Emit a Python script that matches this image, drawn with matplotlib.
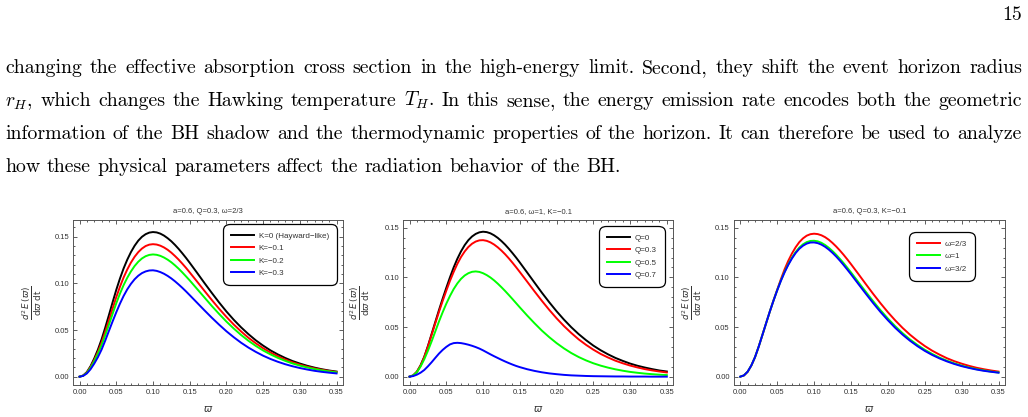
import numpy as np
import matplotlib.pyplot as plt
from matplotlib.ticker import MultipleLocator, FormatStrFormatter

# sample points (varpi): finer steps over the peak, coarser on the tail
omega = np.concatenate([np.linspace(0, 0.15, 31), np.linspace(0.16, 0.35, 20)])

# panel 1: a=0.6, Q=0.3, w=2/3, varying K
p1_K0 = [0, .0013, .0050, .0113, .0195, .0290, .0400, .0526, .0660, .0797, .0930, .1051, .1160,
         .1254, .1335, .1403, .1458, .1499, .1527, .1544, .1550, .1546, .1533, .1512, .1484,
         .1451, .1412, .1369, .1322, .1273, .1221,
         .1114, .1005, .0899, .0796, .0699, .0610, .0529, .0456, .0390, .0333, .0282, .0239,
         .0201, .0168, .0141, .0117, .0097, .0080, .0066, .0055]
p1_K1 = [0, .0012, .0046, .0103, .0178, .0265, .0366, .0481, .0604, .0730, .0852, .0963, .1063,
         .1149, .1223, .1285, .1335, .1373, .1400, .1415, .1420, .1416, .1404, .1385, .1360,
         .1329, .1293, .1254, .1211, .1166, .1118,
         .1020, .0921, .0823, .0729, .0641, .0559, .0485, .0417, .0358, .0305, .0259, .0219,
         .0184, .0154, .0129, .0107, .0089, .0074, .0061, .0050]
p1_K2 = [0, .0011, .0042, .0095, .0165, .0246, .0338, .0444, .0557, .0673, .0786, .0889, .0981,
         .1060, .1128, .1186, .1232, .1267, .1291, .1305, .1310, .1306, .1295, .1277, .1254,
         .1226, .1193, .1157, .1117, .1075, .1032,
         .0941, .0850, .0759, .0673, .0591, .0516, .0447, .0385, .0330, .0281, .0239, .0202,
         .0170, .0142, .0119, .0099, .0082, .0068, .0056, .0046]
p1_K3 = [0, .0009, .0035, .0080, .0140, .0209, .0290, .0387, .0490, .0592, .0690, .0782, .0865,
         .0936, .0995, .1044, .1082, .1110, .1128, .1138, .1140, .1134, .1121, .1103, .1080,
         .1053, .1022, .0988, .0952, .0914, .0874,
         .0793, .0712, .0633, .0558, .0487, .0423, .0364, .0312, .0266, .0225, .0190, .0160,
         .0134, .0112, .0093, .0077, .0063, .0052, .0043, .0035]

# panel 2: a=0.6, w=1, K=-0.1, varying Q
p2_Q0 = [0, .0013, .0050, .0114, .0200, .0309, .0430, .0550, .0670, .0785, .0895, .1001, .1100,
         .1187, .1262, .1325, .1375, .1412, .1438, .1454, .1460, .1456, .1444, .1424, .1398,
         .1366, .1330, .1289, .1245, .1199, .1150,
         .1049, .0947, .0846, .0750, .0659, .0575, .0498, .0429, .0368, .0313, .0266, .0225,
         .0189, .0159, .0132, .0110, .0092, .0076, .0062, .0052]
p2_Q3 = [0, .0012, .0049, .0112, .0196, .0303, .0420, .0537, .0652, .0762, .0866, .0965, .1055,
         .1136, .1205, .1261, .1306, .1339, .1361, .1373, .1375, .1368, .1353, .1331, .1303,
         .1270, .1233, .1192, .1148, .1102, .1054,
         .0957, .0859, .0764, .0673, .0588, .0510, .0440, .0376, .0321, .0272, .0229, .0193,
         .0161, .0135, .0112, .0093, .0076, .0063, .0052, .0042]
p2_Q5 = [0, .0012, .0045, .0102, .0175, .0261, .0355, .0455, .0555, .0648, .0735, .0813, .0882,
         .0939, .0985, .1019, .1042, .1056, .1060, .1055, .1042, .1023, .0999, .0970, .0937,
         .0901, .0863, .0823, .0782, .0740, .0698,
         .0616, .0538, .0464, .0398, .0338, .0285, .0238, .0198, .0164, .0135, .0111, .0091,
         .0074, .0060, .0048, .0039, .0031, .0025, .0020, .0016]
p2_Q7 = [0, .0006, .0020, .0040, .0067, .0104, .0145, .0189, .0232, .0269, .0300, .0325, .0338,
         .0341, .0338, .0331, .0322, .0311, .0298, .0283, .0265, .0245, .0225, .0206, .0188,
         .0170, .0153, .0137, .0122, .0108, .0096,
         .0075, .0058, .0044, .0033, .0025, .0018, .0013, .0010, .0007, .0005, .0004, .0003,
         .0002, .0002, .0001, .0001, .0001, .0000, .0000, .0000]

# panel 3: a=0.6, Q=0.3, K=-0.1, varying w
p3_w23 = [0, .0012, .0049, .0112, .0196, .0303, .0420, .0538, .0655, .0767, .0875, .0981, .1080,
          .1166, .1240, .1303, .1355, .1393, .1420, .1435, .1440, .1436, .1424, .1405, .1379,
          .1347, .1311, .1271, .1228, .1182, .1134,
          .1035, .0934, .0835, .0740, .0650, .0567, .0491, .0423, .0363, .0309, .0262, .0222,
          .0186, .0156, .0131, .0109, .0090, .0075, .0062, .0051]
p3_w1 = [0, .0013, .0050, .0113, .0197, .0303, .0420, .0538, .0655, .0766, .0870, .0967, .1055,
         .1132, .1198, .1255, .1300, .1333, .1355, .1367, .1369, .1363, .1348, .1326, .1298,
         .1265, .1228, .1187, .1144, .1098, .1051,
         .0953, .0856, .0761, .0670, .0586, .0508, .0438, .0375, .0320, .0271, .0229, .0192,
         .0161, .0134, .0111, .0092, .0076, .0063, .0051, .0042]
p3_w32 = [0, .0013, .0050, .0113, .0197, .0303, .0420, .0538, .0655, .0765, .0868, .0964, .1050,
          .1125, .1190, .1245, .1288, .1319, .1340, .1351, .1352, .1345, .1330, .1308, .1280,
          .1247, .1210, .1169, .1125, .1079, .1032,
          .0934, .0837, .0742, .0652, .0569, .0492, .0423, .0362, .0308, .0260, .0219, .0184,
          .0154, .0128, .0106, .0088, .0072, .0059, .0049, .0040]

panels = [
    ('a=0.6, Q=0.3, ω=2/3',
     [p1_K0, p1_K1, p1_K2, p1_K3],
     ['K=0 (Hayward\u2212like)', 'K=\u22120.1', 'K=\u22120.2', 'K=\u22120.3'],
     ['black', 'red', '#00ff00', 'blue']),
    ('a=0.6, ω=1, K=\u22120.1',
     [p2_Q0, p2_Q3, p2_Q5, p2_Q7],
     ['Q=0', 'Q=0.3', 'Q=0.5', 'Q=0.7'],
     ['black', 'red', '#00ff00', 'blue']),
    ('a=0.6, Q=0.3, K=\u22120.1',
     [p3_w23, p3_w1, p3_w32],
     ['ω=2/3', 'ω=1', 'ω=3/2'],
     ['red', '#00ff00', 'blue']),
]

W, H = 1028, 417
fig = plt.figure(figsize=(W / 100, H / 100), dpi=100)
renderer = fig.canvas.get_renderer()

# ---- page text ----
body = dict(family='cmr10', math_fontfamily='cm', va='baseline')
lines = [
    "changing the effective absorption cross section in the high-energy limit. Second, they shift the event horizon radius",
    "$r_H$, which changes the Hawking temperature $T_H$. In this sense, the energy emission rate encodes both the geometric",
    "information of the BH shadow and the thermodynamic properties of the horizon. It can therefore be used to analyze",
    "how these physical parameters affect the radiation behavior of the BH.",
]
baselines = [73, 106, 139, 172]
x0, x1 = 5, 1022

# font size chosen so the last (unjustified) line ends near x=622
words = lines[3].split(' ')
probe = [fig.text(0, 0, w, fontsize=10, **body) for w in words]
s10 = sum(t.get_window_extent(renderer).width for t in probe)
for t in probe:
    t.remove()
fs = 617 / (s10 / 10 + (len(words) - 1) * 0.333 * 100 / 72)

for text, yb, just in zip(lines, baselines, [True, True, True, False]):
    words = text.split(' ')
    items = [fig.text(0, 1 - yb / H, w, fontsize=fs, **body) for w in words]
    widths = [t.get_window_extent(renderer).width for t in items]
    if just:
        gap = (x1 - x0 - sum(widths)) / (len(words) - 1)
    else:
        gap = 0.333 * fs * 100 / 72
    x = x0
    for t, w in zip(items, widths):
        t.set_x(x / W)
        x += w + gap

fig.text(1022 / W, 1 - 20 / H, '15', fontsize=fs, ha='right', **body)

# ---- charts ----
sans = 'Liberation Sans'
axes_px = [(73.3, 343), (403.3, 673.3), (734, 1005)]
ylims = [(-0.0089, 0.1679), (-0.0084, 0.1578), (-0.0084, 0.1578)]
leg_anchor = [(0.978, 0.976), (0.969, 0.964), (0.889, 0.927)]
ylab_x = [-0.152, -0.16, -0.155]
top, bottom = 220, 385

for i, (title, series, labels, colors) in enumerate(panels):
    l, r = axes_px[i]
    ax = fig.add_axes([l / W, 1 - bottom / H, (r - l) / W, (bottom - top) / H])
    for ys, lab, c in zip(series, labels, colors):
        ax.plot(omega, ys, color=c, lw=1.4, label=lab, solid_joinstyle='round')
    ax.set_xlim(-0.0085, 0.3588)
    ax.set_ylim(*ylims[i])
    ax.xaxis.set_major_locator(MultipleLocator(0.05))
    ax.xaxis.set_minor_locator(MultipleLocator(0.01))
    ax.yaxis.set_major_locator(MultipleLocator(0.05))
    ax.yaxis.set_minor_locator(MultipleLocator(0.01))
    ax.xaxis.set_major_formatter(FormatStrFormatter('%.2f'))
    ax.yaxis.set_major_formatter(FormatStrFormatter('%.2f'))
    ax.tick_params(which='both', direction='in', top=True, right=True,
                   color='#444444', width=0.6, labelsize=5.5, labelcolor='#333333')
    ax.tick_params(which='major', length=3.2)
    ax.tick_params(which='minor', length=1.6)
    ax.tick_params(axis='x', pad=3)
    ax.tick_params(axis='y', pad=3)
    for lab in ax.get_xticklabels() + ax.get_yticklabels():
        lab.set_family(sans)
    for s in ax.spines.values():
        s.set_color('#555555')
        s.set_linewidth(0.7)

    ax.set_title(title, fontsize=5.5, family=sans, color='#333333', pad=5)
    ax.text(ylab_x[i], 0.5, r'$\frac{d^2\,E\,(\varpi)}{\mathrm{d}\varpi\ \mathrm{dt}}$',
            transform=ax.transAxes, rotation=90, ha='center', va='center',
            fontsize=9, color='#333333', math_fontfamily='dejavusans')
    ax.text(0.5, -0.145, r'$\varpi$', transform=ax.transAxes, ha='center', va='center',
            fontsize=7, color='#333333', math_fontfamily='dejavusans')

    leg = ax.legend(loc='upper right', bbox_to_anchor=leg_anchor[i], fancybox=True,
                    framealpha=1, edgecolor='black', handlelength=2.8, handletextpad=0.6,
                    labelspacing=0.6, borderpad=1.0, borderaxespad=0,
                    prop={'family': sans, 'size': 5.8})
    leg.get_frame().set_linewidth(0.9)
    leg.get_frame().set_boxstyle('round,pad=0,rounding_size=0.8')
    for t in leg.get_texts():
        t.set_color('#333333')

fig.savefig('out.png', dpi=100)
